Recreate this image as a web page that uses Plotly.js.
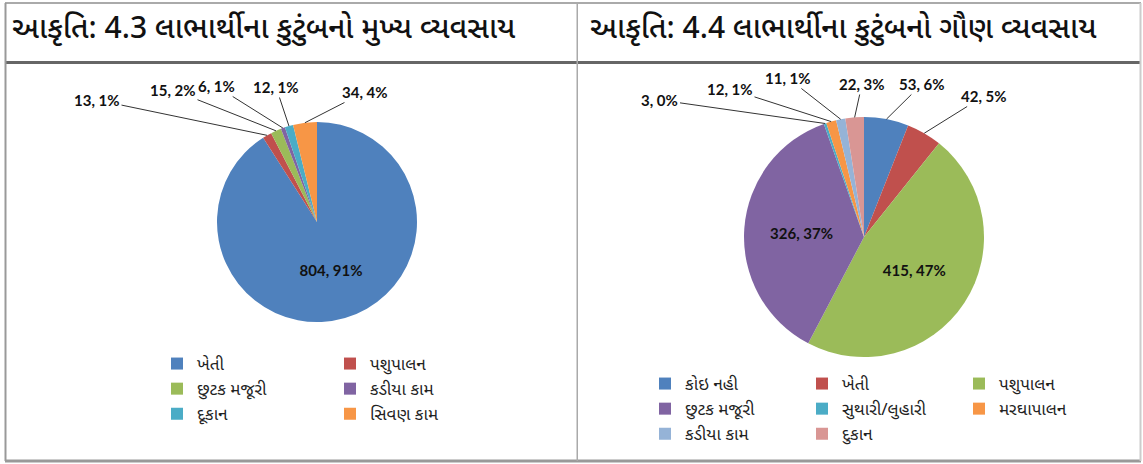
<!DOCTYPE html>
<html><head><meta charset="utf-8">
<script src="https://cdn.plot.ly/plotly-3.0.1.min.js"></script>
<style>
html,body{margin:0;padding:0;background:#fff;}
#wrap{position:relative;width:1143px;height:464px;overflow:hidden;}
#left{position:absolute;left:0;top:0;width:578px;height:464px;}
#right{position:absolute;left:578px;top:0;width:565px;height:464px;}
</style></head><body>
<div id="wrap"><div id="left"></div><div id="right"></div></div>
<script>
// ---- data ----
const titleMain = 'આકૃતિ: 4.3 લાભાર્થીના કુટુંબનો મુખ્ય વ્યવસાય';
const titleSecondary = 'આકૃતિ: 4.4 લાભાર્થીના કુટુંબનો ગૌણ વ્યવસાય';
const mainLabels = ['ખેતી', 'પશુપાલન', 'છુટક મજૂરી', 'કડીયા કામ', 'દૂકાન', 'સિવણ કામ'];
const mainValues = [804, 13, 15, 6, 12, 34];
const mainPercents = ['91%', '1%', '2%', '1%', '1%', '4%'];
const secLabels = ['કોઇ નહી', 'ખેતી', 'પશુપાલન', 'છુટક મજૂરી', 'સુથારી/લુહારી', 'મરઘાપાલન', 'કડીયા કામ', 'દુકાન'];
const secValues = [53, 42, 415, 326, 3, 12, 11, 22];
const secPercents = ['6%', '5%', '47%', '37%', '0%', '1%', '1%', '3%'];

// ---- styles / positions ----
const mainColors = ['#4F81BD', '#C0504D', '#9BBB59', '#8064A2', '#4BACC6', '#F79646'];
const secColors = ['#4F81BD', '#C0504D', '#9BBB59', '#8064A2', '#4BACC6', '#F79646', '#95B3D7', '#D99694'];
const mainPos = ['inside', 'none', 'none', 'none', 'none', 'none'];
const secPos = ['none', 'none', 'inside', 'inside', 'none', 'none', 'none', 'none'];
// page-pixel centres of the outside labels (null = label drawn inside the slice)
const mainLabelAt = [null, [97, 100], [173, 90], [216, 86], [276, 87], [365, 92]];
const secLabelAt = [[922, 84], [984, 96], null, null, [660, 100], [730, 89], [788, 78], [862, 84]];
const guj = '"Noto Sans Gujarati", "Noto Sans", sans-serif';
const lblFont = {family: 'Lato, "Open Sans", sans-serif', size: 15, color: '#111', weight: 'bold'};
const H = 464;

function line(x0, y0, x1, y1, color, width, l, w) {
  return {type: 'line', xref: 'paper', yref: 'paper',
    x0: (x0 - l) / w, x1: (x1 - l) / w, y0: 1 - y0 / H, y1: 1 - y1 / H,
    line: {color: color, width: width}};
}

// leader-line annotations for the small slices, anchored on the slice rim
function leaderLabels(values, pcts, labelAt, cx, cy, rad, l, w, off) {
  const total = values.reduce((a, b) => a + b, 0);
  const out = [];
  let cum = 0;
  values.forEach((v, i) => {
    const mid = (cum + v / 2) / total;
    cum += v;
    if (!labelAt[i]) return;
    const th = 2 * Math.PI * mid;
    const rx = cx + rad * Math.sin(th), ry = cy - rad * Math.cos(th);
    out.push({
      xref: 'paper', yref: 'paper',
      x: (rx - off - l) / w, y: 1 - ry / H,
      ax: labelAt[i][0] - rx, ay: labelAt[i][1] - ry,
      text: v + ', ' + pcts[i],
      showarrow: true, arrowhead: 0, arrowwidth: 1, arrowcolor: '#333',
      standoff: 0, startstandoff: 0, font: lblFont
    });
  });
  return out;
}

// ---- left figure ----
(function () {
  const W = 578, l = 50, r = 50, w = W - l - r;
  const cx = 317, cy = 222, rad = 100;
  const trace = {
    type: 'pie', labels: mainLabels, values: mainValues, text: mainPercents,
    texttemplate: '%{value}, %{text}', textposition: mainPos,
    sort: false, direction: 'clockwise', rotation: 0,
    marker: {colors: mainColors, line: {width: 0}},
    textfont: lblFont, insidetextfont: lblFont,
    insidetextorientation: 'horizontal',
    hoverinfo: 'skip',
    domain: {x: [(cx - rad - l) / w, (cx + rad - l) / w], y: [1 - (cy + rad) / H, 1 - (cy - rad) / H]}
  };
  const layout = {
    width: W, height: H, margin: {l: l, r: r, t: 0, b: 0, autoexpand: false},
    paper_bgcolor: '#fff', plot_bgcolor: '#fff',
    title: {text: titleMain, x: 12 / W, xanchor: 'left', xref: 'container', y: 1 - 27 / H, yanchor: 'middle', yref: 'container',
      font: {family: guj, size: 30, color: '#111', weight: 500}},
    showlegend: true,
    legend: {orientation: 'h', x: (157 - l) / w, y: 1 - 346 / H, xanchor: 'left', yanchor: 'top',
      entrywidth: 128, entrywidthmode: 'pixels', traceorder: 'normal',
      font: {family: guj, size: 17, color: '#222'}, bgcolor: 'rgba(0,0,0,0)'},
    annotations: leaderLabels(mainValues, mainPercents, mainLabelAt, cx, cy, rad, l, w, 0),
    shapes: [
      line(5, 3, W, 3, '#aaaaaa', 2, l, w),
      line(5, 62.5, W, 62.5, '#666666', 3, l, w),
      line(5, 461, W, 461, '#999999', 3, l, w),
      line(5.5, 3, 5.5, 461, '#999999', 2, l, w),
      line(577.5, 3, 577.5, 461, '#aaaaaa', 2, l, w)
    ]
  };
  Plotly.newPlot('left', [trace], layout, {displayModeBar: false, staticPlot: true});
})();

// ---- right figure ----
(function () {
  const W = 565, l = 0, r = 0, w = W - l - r, off = 578;
  const cx = 864, cy = 237, rad = 120;
  const trace = {
    type: 'pie', labels: secLabels, values: secValues, text: secPercents,
    texttemplate: '%{value}, %{text}', textposition: secPos,
    sort: false, direction: 'clockwise', rotation: 0,
    marker: {colors: secColors, line: {width: 0}},
    textfont: lblFont, insidetextfont: lblFont,
    insidetextorientation: 'horizontal',
    hoverinfo: 'skip',
    domain: {x: [(cx - off - rad - l) / w, (cx - off + rad - l) / w], y: [1 - (cy + rad) / H, 1 - (cy - rad) / H]}
  };
  const layout = {
    width: W, height: H, margin: {l: l, r: r, t: 0, b: 0, autoexpand: false},
    paper_bgcolor: '#fff', plot_bgcolor: '#fff',
    title: {text: titleSecondary, x: (590 - off) / W, xanchor: 'left', xref: 'container', y: 1 - 27 / H, yanchor: 'middle', yref: 'container',
      font: {family: guj, size: 30, color: '#111', weight: 500}},
    showlegend: true,
    legend: {orientation: 'h', x: (645 - off - l) / w, y: 1 - 366 / H, xanchor: 'left', yanchor: 'top',
      entrywidth: 112, entrywidthmode: 'pixels', traceorder: 'normal',
      font: {family: guj, size: 17, color: '#222'}, bgcolor: 'rgba(0,0,0,0)'},
    annotations: leaderLabels(secValues, secPercents, secLabelAt, cx, cy, rad, l, w, off),
    shapes: [
      line(0, 3, 563, 3, '#aaaaaa', 2, l, w),
      line(0, 62.5, 563, 62.5, '#666666', 3, l, w),
      line(0, 461, 563, 461, '#999999', 3, l, w),
      line(562.5, 3, 562.5, 461, '#cccccc', 2, l, w)
    ]
  };
  Plotly.newPlot('right', [trace], layout, {displayModeBar: false, staticPlot: true});
})();
</script>
</body></html>
